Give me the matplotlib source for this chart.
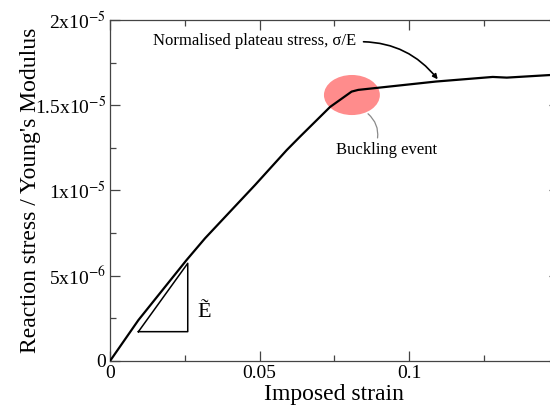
import matplotlib
matplotlib.use("Agg")
import matplotlib.pyplot as plt
from matplotlib.patches import Ellipse
from matplotlib.ticker import MultipleLocator, FuncFormatter

# imposed strain vs normalised reaction stress (units of 1e-6)
strain = [0.0, 0.0095, 0.0256, 0.0318, 0.0485, 0.0591, 0.0635, 0.0736,
          0.0808, 0.0830, 0.1090, 0.1280, 0.1327, 0.1470, 0.1500]
stress_e6 = [0.0, 2.40, 5.92, 7.20, 10.32, 12.37, 13.15, 14.90,
             15.80, 15.90, 16.39, 16.66, 16.62, 16.77, 16.80]

# slope triangle corners (strain, stress e-6)
tri_strain = [0.0095, 0.0260, 0.0260, 0.0095]
tri_stress = [1.72, 1.72, 5.73, 1.72]

buckle_center = (0.0809, 15.6)


def ytick_fmt(v, pos):
    if abs(v) < 1e-12:
        return "0"
    exp = -5 if v >= 1e-5 - 1e-12 else -6
    mant = v / 10 ** exp
    mant_s = ("%g" % round(mant, 2))
    return "%sx10$^{%d}$" % (mant_s, exp)


def xtick_fmt(v, pos):
    if abs(v) < 1e-12:
        return "0"
    if v > 0.12:
        return ""  # falls off the right edge
    return "%g" % round(v, 3)


def run():
    plt.rcParams["font.family"] = ["Liberation Serif", "DejaVu Serif"]
    plt.rcParams["mathtext.fontset"] = "stix"

    fig = plt.figure(figsize=(5.5, 4.08), dpi=100)
    ax = fig.add_axes((0.2, 0.1152, 0.8155, 0.8358))

    ys = [s * 1e-6 for s in stress_e6]

    ell = Ellipse((buckle_center[0], buckle_center[1] * 1e-6),
                  width=0.0187, height=2.35e-6,
                  facecolor="#ff8c8c", edgecolor="none", zorder=2)
    ax.add_patch(ell)

    ax.plot(strain, ys, color="black", lw=1.6, zorder=3)
    ax.plot(tri_strain, [s * 1e-6 for s in tri_stress],
            color="black", lw=1.1, zorder=3)

    ax.text(0.0316, 2.87e-6, "Ẽ", fontsize=16,
            ha="center", va="center")

    ax.annotate("Normalised plateau stress, σ/E",
                xy=(0.1096, 16.52e-6), xytext=(0.0485, 18.77e-6),
                fontsize=12, ha="center", va="center",
                arrowprops=dict(arrowstyle="-|>", color="black", lw=1.2,
                                mutation_scale=7, shrinkA=3, shrinkB=0,
                                connectionstyle="arc3,rad=-0.25",
                                relpos=(1.0, 0.45)),
                zorder=4)
    ax.annotate("Buckling event",
                xy=(0.0863, 14.5e-6), xytext=(0.0926, 12.37e-6),
                fontsize=12, ha="center", va="center",
                arrowprops=dict(arrowstyle="-", color="#8a8a8a", lw=0.9,
                                shrinkA=1, shrinkB=0,
                                connectionstyle="arc3,rad=0.3",
                                relpos=(0.4, 1.0)))

    ax.set_xlim(0, 0.15)
    ax.set_ylim(0, 2e-5)
    ax.xaxis.set_major_locator(MultipleLocator(0.05))
    ax.xaxis.set_minor_locator(MultipleLocator(0.025))
    ax.yaxis.set_major_locator(MultipleLocator(5e-6))
    ax.yaxis.set_minor_locator(MultipleLocator(2.5e-6))
    ax.xaxis.set_major_formatter(FuncFormatter(xtick_fmt))
    ax.yaxis.set_major_formatter(FuncFormatter(ytick_fmt))

    ax.tick_params(which="both", direction="in", top=True, right=True,
                   color="#444444", labelsize=14, pad=3)
    ax.tick_params(which="major", length=7, width=0.9)
    ax.tick_params(which="minor", length=4, width=0.9)
    for sp in ax.spines.values():
        sp.set_color("#444444")
        sp.set_linewidth(0.9)

    ax.set_xlabel("Imposed strain", fontsize=17, labelpad=1)
    ax.set_ylabel("Reaction stress / Young's Modulus", fontsize=17,
                  labelpad=-5)

    fig.savefig("out.png", dpi=100)
    plt.close(fig)


if __name__ == "__main__":
    run()
